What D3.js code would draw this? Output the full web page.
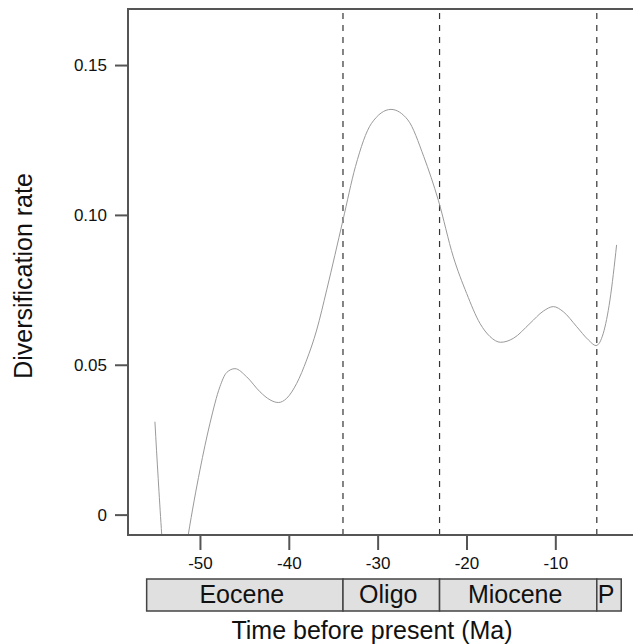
<!DOCTYPE html>
<html>
<head>
<meta charset="utf-8">
<script src="https://cdn.jsdelivr.net/npm/d3@7"></script>
<style>
    body { margin: 0; background: #fff; }
    text { font-family: "Liberation Sans", Arial, Helvetica, sans-serif; }
</style>
</head>
<body>
<div id="chart-container"></div>
<script>
// time (Ma, negative = before present) and rate
const times = [
    -55.07, -54.7, -54.0, -53.2, -52.3, -51.32, -50.0, -48.87, -47.75, -47.0,
    -46.06, -44.75, -43.25, -42.12, -41.18, -40.24, -39.11, -37.99, -36.86, -35.73,
    -33.9, -32.5, -30.7, -28.5, -26.6, -24.8, -23.17, -21.48, -19.98, -18.48,
    -17.35, -16.15, -14.73, -12.85, -11.35, -10.22, -9.1, -7.59, -6.28, -5.42,
    -4.6, -3.85, -3.1
];
const rates = [
    0.0310, 0.0120, -0.0180, -0.0300, -0.0260, -0.0068, 0.0149, 0.0305, 0.0427, 0.0474,
    0.0487, 0.0460, 0.0410, 0.0383, 0.0374, 0.0388, 0.0438, 0.0516, 0.0616, 0.0750,
    0.0983, 0.1161, 0.1305, 0.1352, 0.1317, 0.1194, 0.1049, 0.0860, 0.0738, 0.0638,
    0.0594, 0.0575, 0.0588, 0.0638, 0.0679, 0.0694, 0.0677, 0.0627, 0.0583, 0.0564,
    0.0605, 0.0716, 0.0900
];

const xTicks = [-50, -40, -30, -20, -10];
const yTicks = [0, 0.05, 0.10, 0.15];
const yTickLabels = ["0", "0.05", "0.10", "0.15"];

// epoch boundaries (Ma)
const boundaries = [-33.9, -23.03, -5.33];
const epochNames = ["Eocene", "Oligo", "Miocene", "P"];
const epochStarts = [-56.0, -33.9, -23.03, -5.33];
const epochEnds = [-33.9, -23.03, -5.33, -2.58];

const width = 633;
const height = 644;
const plot = { left: 128, right: 635, top: 9, bottom: 535 };

const x = d3.scaleLinear().domain([-58.1, -1.03]).range([plot.left, plot.right]);
const y = d3.scaleLinear().domain([-0.0068, 0.1687]).range([plot.bottom, plot.top]);

const svg = d3
    .select("#chart-container")
    .append("svg")
    .attr("width", width)
    .attr("height", height);

svg.append("defs")
    .append("clipPath")
    .attr("id", "plot-clip")
    .append("rect")
    .attr("x", plot.left)
    .attr("y", plot.top)
    .attr("width", plot.right - plot.left)
    .attr("height", plot.bottom - plot.top);

// boundary lines
svg.selectAll(".boundary")
    .data(boundaries)
    .enter()
    .append("line")
    .attr("class", "boundary")
    .attr("x1", (d) => x(d))
    .attr("x2", (d) => x(d))
    .attr("y1", plot.top + 4)
    .attr("y2", plot.bottom)
    .attr("stroke", "#333")
    .attr("stroke-width", 1.2)
    .attr("stroke-dasharray", "6,6");

const line = d3
    .line()
    .x((d, i) => x(times[i]))
    .y((d) => y(d))
    .curve(d3.curveMonotoneX);

svg.append("path")
    .datum(rates)
    .attr("clip-path", "url(#plot-clip)")
    .attr("d", line)
    .attr("fill", "none")
    .attr("stroke", "#9a9a9a")
    .attr("stroke-width", 1);

// frame
svg.append("rect")
    .attr("x", plot.left)
    .attr("y", plot.top)
    .attr("width", plot.right - plot.left)
    .attr("height", plot.bottom - plot.top)
    .attr("fill", "none")
    .attr("stroke", "#555")
    .attr("stroke-width", 2);

const yAxis = svg
    .append("g")
    .attr("transform", `translate(${plot.left},0)`)
    .call(
        d3.axisLeft(y)
            .tickValues(yTicks)
            .tickFormat((d, i) => yTickLabels[i])
            .tickSize(13)
            .tickPadding(8)
    );

const xAxis = svg
    .append("g")
    .attr("transform", `translate(0,${plot.bottom})`)
    .call(
        d3.axisBottom(x)
            .tickValues(xTicks)
            .tickFormat((d) => d)
            .tickSize(15)
            .tickPadding(7)
    );

[yAxis, xAxis].forEach((g) => {
    g.select(".domain").remove();
    g.selectAll(".tick line").attr("stroke", "#555").attr("stroke-width", 2);
    g.selectAll(".tick text")
        .attr("fill", "#111")
        .style("font-size", "17px");
});

// epoch bar
const epochs = svg
    .selectAll(".epoch")
    .data(epochNames)
    .enter()
    .append("g")
    .attr("class", "epoch");

epochs.append("rect")
    .attr("x", (d, i) => x(epochStarts[i]))
    .attr("y", 579)
    .attr("width", (d, i) => x(epochEnds[i]) - x(epochStarts[i]))
    .attr("height", 32)
    .attr("fill", "#e0e0e0")
    .attr("stroke", "#444")
    .attr("stroke-width", 1.5);

epochs.append("text")
    .attr("x", (d, i) => (x(epochStarts[i]) + x(epochEnds[i])) / 2 - 3)
    .attr("y", 603)
    .attr("text-anchor", "middle")
    .style("font-size", "25px")
    .attr("fill", "#111")
    .text((d) => d);

svg.append("text")
    .attr("x", 372)
    .attr("y", 639)
    .attr("text-anchor", "middle")
    .style("font-size", "25px")
    .attr("fill", "#111")
    .text("Time before present (Ma)");

svg.append("text")
    .attr("transform", "translate(32,276) rotate(-90)")
    .attr("text-anchor", "middle")
    .style("font-size", "25px")
    .attr("fill", "#111")
    .text("Diversification rate");
</script>
</body>
</html>
